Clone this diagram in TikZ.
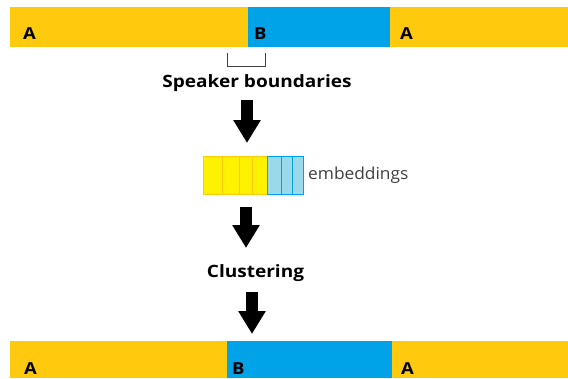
\documentclass[tikz,border=0pt]{standalone}
\usepackage{fontspec}
\setmainfont{Open Sans}
\newfontfamily\widebold[FakeStretch=1.12]{Open Sans}
\newfontfamily\widereg[FakeStretch=1.05]{Open Sans}
\usetikzlibrary{arrows.meta}
\definecolor{gold}{HTML}{FFC90E}
\definecolor{turq}{HTML}{00A2E8}
\definecolor{lemon}{HTML}{FFF200}
\definecolor{lightturq}{HTML}{99D9EA}
\definecolor{inkgray}{HTML}{3F3F3F}
\tikzset{
  seglabel/.style={anchor=base west, inner sep=0pt, font=\widebold\bfseries\fontsize{16.5}{18}\selectfont},
  steptext/.style={anchor=base, inner sep=0pt, font=\widebold\bfseries\fontsize{17}{18}\selectfont},
  blockarrow/.style={line width=12pt, -{Triangle[width=26pt,length=23pt]}},
}
\begin{document}
\begin{tikzpicture}[x=1pt,y=-1pt]
\useasboundingbox (0,0) rectangle (568,378);
% input segmentation
\fill[gold] (10,7) rectangle (248,47);
\fill[turq] (248,7) rectangle (390,47);
\fill[gold] (390,7) rectangle (568,47);
\node[seglabel] (topA1) at (23,39) {A};
\node[seglabel] (topB) at (254,39) {B};
\node[seglabel] (topA2) at (400,39) {A};
\draw[inkgray, line width=1pt] (227,53) -- (227,66) -- (265,66) -- (265,53);
\node[steptext] (bound) at (257,87) {Speaker boundaries};

% embeddings
\coordinate (arr1s) at (247,100);
\coordinate (arr1e) at (247,143);
\draw[blockarrow] (arr1s) -- (arr1e);
\foreach \a/\b in {203/222,222/239,239/252,252/267}
  \draw[gold, fill=lemon] (\a,156) rectangle (\b,194);
\foreach \a/\b in {267/281,281/292,292/303}
  \draw[turq, fill=lightturq] (\a,156) rectangle (\b,194);
\node[anchor=west, inner sep=0pt, text=inkgray, font=\widereg\fontsize{16.5}{18}\selectfont] (emb) at (308,175) {embeddings};

% clustering
\coordinate (arr2s) at (246,207);
\coordinate (arr2e) at (246,248);
\draw[blockarrow] (arr2s) -- (arr2e);
\node[steptext] (clus) at (255.5,277) {Clustering};

% output segmentation
\coordinate (arr3s) at (252,292);
\coordinate (arr3e) at (252,334);
\draw[blockarrow] (arr3s) -- (arr3e);
\fill[gold] (10,341) rectangle (227,378);
\fill[turq] (227,341) rectangle (392,378);
\fill[gold] (392,341) rectangle (568,378);
\node[seglabel] (botA1) at (24,374) {A};
\node[seglabel] (botB) at (232,374) {B};
\node[seglabel] (botA2) at (401,374) {A};
\end{tikzpicture}
\end{document}
